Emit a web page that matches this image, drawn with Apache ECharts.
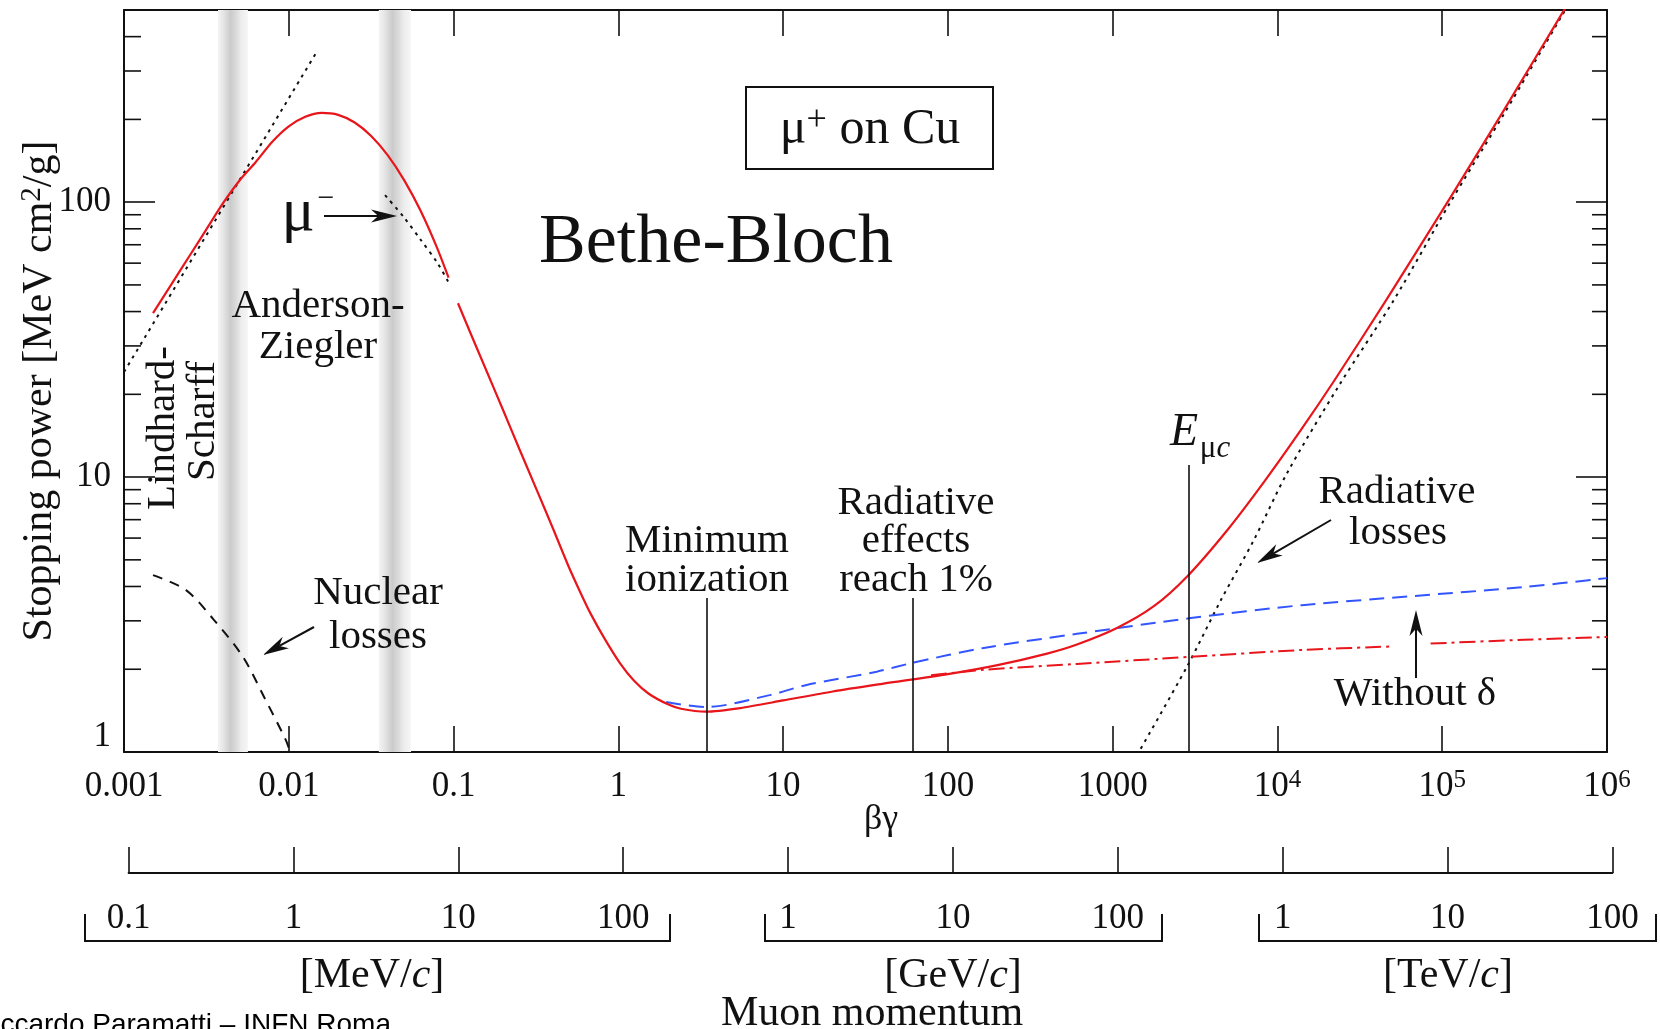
<!DOCTYPE html>
<html><head><meta charset="utf-8">
<script src="https://cdn.jsdelivr.net/npm/echarts@6/dist/echarts.min.js"></script>
<style>html,body{margin:0;padding:0;background:#fff;}#c{width:1660px;height:1029px;}</style>
</head><body><div id="c"></div>
<script>
// ---------- data (x = beta*gamma, y = stopping power MeV cm2/g) ----------
const muPlusCu = [[0.0015,39.5],[0.001995,51.6],[0.002512,64.1],[0.003162,79.6],[0.003981,98.9],[0.005012,119.7],[0.00631,140],[0.007943,165.8],[0.01,188.6],[0.01259,204.4],[0.01585,211.2],[0.01995,207.8],[0.02512,194.9],[0.03162,174.1],[0.03981,148.3],[0.05012,120.3],[0.0631,93],[0.07943,68.2],[0.0933,53.1],[0.1,null],
  [0.1064,42.9],[0.13,32.2],[0.16,24.0],[0.2,17.5],[0.25,12.7],[0.32,8.97],[0.4,6.53],[0.5,4.72],[0.6,3.71],[0.68,3.18],[0.82,2.6],[1.02,2.11],[1.25,1.811],[1.53,1.629],[2.0,1.491],[2.4,1.437],[3.4,1.402],[5.5,1.445],[10,1.54],[20,1.66],[40,1.77],[100,1.92],[200,2.07],[400,2.28],[607,2.46],[1062,2.825],[1778,3.39],[2860,4.38],[5000,6.45],[8380,9.69],[14060,15.0],[22300,22.6],[46100,44.4],[111000,103],[240000,219],[525000,478],[600000,546]];
const ionizationBlue = [[1.95,1.52],[3.4,1.458],[8.3,1.61],[13.7,1.75],[37,1.96],[61,2.11],[165,2.39],[607,2.69],[2980,3.07],[14060,3.42],[66400,3.69],[312000,3.98],[1e6,4.29]];
const withoutDelta = [[79,1.9],[165,1.99],[607,2.09],[2980,2.22],[14060,2.35],[49000,2.42],[65000,null],[85000,2.48],[312000,2.56],[1e6,2.62]];
const radiativeLosses = [[1400,0.97],[2820,2.04],[4540,3.57],[7190,5.9],[11400,10.3],[23600,21.5],[50800,44],[111000,99],[240000,212],[525000,470],[600000,540]];
const lindhardScharff = [[0.001,24.1],[0.0146,348]];
const muMinus = [[0.0384,106],[0.05,88],[0.0634,72.8],[0.08,60],[0.0938,50.7]];
const nuclearLosses = [[0.0015,4.40],[0.00238,3.88],[0.00352,3.02],[0.00527,2.22],[0.00708,1.585],[0.0096,1.105],[0.0102,1.0]];
const markerX = [3.44, 61.4, 2880];          // minimum ionization, radiative 1%, E_muc
const markerTop = [3.63, 3.63, 11.06];
const bandRanges = [[0.00372,0.00565],[0.0352,0.0552]];
const yMinorTicks = [2,3,4,5,6,7,8,9,20,30,40,50,60,70,80,90,200,300,400];
const momentumLabels = ['0.1','1','10','100','1','10','100','1','10','100'];

// ---------- chart ----------
const SERIF = 'Liberation Serif';
const INK = '#111';
const chart = echarts.init(document.getElementById('c'), null, {renderer:'canvas', width:1660, height:1029});
const isDecade = v => Math.abs(Math.log10(v) - Math.round(Math.log10(v))) < 1e-6;
function xFmt(v){
  if (!isDecade(v)) return '';
  const e = Math.round(Math.log10(v));
  if (e >= 4) return '{b|10}{sup|' + e + '}';
  if (e < 0) return '{b|' + Number(v).toFixed(-e) + '}';
  return '{b|' + Math.round(Math.pow(10, e)) + '}';
}
function yFmt(v){
  if (!isDecade(v)) return '';
  const e = Math.round(Math.log10(v));
  if (e > 2) return '';
  if (e === 0) return '{one|1}';
  return String(Math.round(Math.pow(10, e)));
}
function pFmt(v){
  if (!isDecade(v)) return '';
  const i = Math.round(Math.log10(v)) + 1;
  return momentumLabels[i] || '';
}
const axisLine = {show:true, onZero:false, lineStyle:{color:INK, width:2}};
const tickStyle = {color:INK, width:1.6};
const richX = {
  b:{fontFamily:SERIF, fontSize:35, lineHeight:36, color:INK, verticalAlign:'bottom'},
  sup:{fontFamily:SERIF, fontSize:25, lineHeight:12, color:INK, verticalAlign:'top'}
};
const bandGrad = () => new echarts.graphic.LinearGradient(0,0,1,0,[
  {offset:0,color:'#f4f4f4'},{offset:0.2,color:'#e3e3e3'},{offset:0.42,color:'#cbcbcb'},
  {offset:0.6,color:'#dadada'},{offset:0.78,color:'#ededed'},{offset:1,color:'#f6f6f6'}]);

function lineSeries(data, color, width, type, smooth){
  return {type:'line', data, xAxisIndex:0, yAxisIndex:0, showSymbol:false, symbol:'none',
    smooth: smooth === undefined ? 0.3 : smooth, connectNulls:false, silent:true, z:3,
    lineStyle:{color, width, type}};
}

function T(x, y, text, size, extra){
  const st = Object.assign({text, fontFamily:SERIF, fontSize:size, fill:INK, align:'center', verticalAlign:'middle'}, (extra && extra.style) || {});
  const el = {type:'text', x, y, style:st, silent:true, z:100};
  if (extra && extra.rotation) el.rotation = extra.rotation;
  return el;
}
function arrow(x1,y1,x2,y2){
  const a = Math.atan2(y2-y1, x2-x1), L = 26, W = 6.5, c = Math.cos(a), s = Math.sin(a);
  const bx = x2 - L*c, by = y2 - L*s, nx = -s, ny = c;
  const mx = x2 - L*0.72*c, my = y2 - L*0.72*s;
  return [
    {type:'line', shape:{x1, y1, x2:mx, y2:my}, style:{stroke:INK, lineWidth:2}, silent:true, z:100},
    {type:'polygon', shape:{points:[[x2,y2],[bx+nx*W,by+ny*W],[mx,my],[bx-nx*W,by-ny*W]]}, style:{fill:INK}, silent:true, z:100}
  ];
}
function bracket(xl, xr){
  return {type:'polyline', shape:{points:[[xl,914],[xl,941],[xr,941],[xr,914]]}, style:{stroke:INK, lineWidth:2, fill:null}, silent:true, z:100};
}
const unitRich = {t:{fontFamily:SERIF,fontSize:42,fill:INK}, i:{fontFamily:SERIF,fontSize:42,fontStyle:'italic',fill:INK}};

const graphics = [
  {type:'rect', shape:{x:746, y:87, width:247, height:82}, style:{stroke:INK, lineWidth:2, fill:'#fff'}, silent:true, z:99},
  T(870, 129, '{t|μ}{s|+}{t| on Cu}', 50, {style:{rich:{t:{fontFamily:SERIF,fontSize:50,fill:INK,lineHeight:52,verticalAlign:'bottom'}, s:{fontFamily:SERIF,fontSize:36,fill:INK,lineHeight:18,verticalAlign:'top'}}}}),
  T(716, 244, 'Bethe-Bloch', 70),
  T(318, 306, 'Anderson-', 41),
  T(318, 347, 'Ziegler', 41),
  T(163, 428, 'Lindhard-', 41, {rotation:Math.PI/2}),
  T(203, 421, 'Scharff', 41, {rotation:Math.PI/2}),
  T(298, 214, 'μ', 62),
  T(326, 199, '−', 30),
  ...arrow(324, 216, 397, 216),
  T(707, 541, 'Minimum', 41),
  T(707, 580, 'ionization', 41),
  T(916, 503, 'Radiative', 41),
  T(916, 541, 'effects', 41),
  T(916, 580, 'reach 1%', 41),
  T(1184, 433, 'E', 46, {style:{fontStyle:'italic'}}),
  T(1215, 449, '{m|μ}{c|c}', 30, {style:{rich:{m:{fontFamily:SERIF,fontSize:31,fill:INK}, c:{fontFamily:SERIF,fontSize:31,fontStyle:'italic',fill:INK}}}}),
  T(1397, 492, 'Radiative', 41),
  T(1398, 533, 'losses', 41),
  ...arrow(1331, 520, 1257, 563),
  T(1415, 694, 'Without δ', 41),
  ...arrow(1416, 678, 1416, 610),
  T(378, 593, 'Nuclear', 41),
  T(378, 637, 'losses', 41),
  ...arrow(314, 627, 263, 655),
  T(39, 391, '{t|Stopping power [MeV cm}{s|2}{t|/g]}', 42, {rotation:Math.PI/2, style:{rich:{t:{fontFamily:SERIF,fontSize:42,fill:INK,lineHeight:43,verticalAlign:'bottom'}, s:{fontFamily:SERIF,fontSize:29,fill:INK,lineHeight:14,verticalAlign:'top'}}}}),
  T(881, 820, 'βγ', 36),
  bracket(85, 670), bracket(765, 1162), bracket(1259, 1656),
  T(372, 976, '{t|[MeV/}{i|c}{t|]}', 42, {style:{rich:unitRich}}),
  T(953, 976, '{t|[GeV/}{i|c}{t|]}', 42, {style:{rich:unitRich}}),
  T(1448, 976, '{t|[TeV/}{i|c}{t|]}', 42, {style:{rich:unitRich}}),
  T(872, 1014, 'Muon momentum', 42),
  {type:'text', x:-26, y:1011, style:{text:'Riccardo Paramatti – INFN Roma', fontFamily:'Liberation Sans', fontSize:28, fill:'#000', align:'left', verticalAlign:'top'}, silent:true, z:100}
];

const option = {
  animation:false,
  backgroundColor:'#fff',
  grid:[
    {left:124, right:53, top:10, bottom:277},
    {left:128.6, right:47.6, top:840, height:33}
  ],
  xAxis:[
    {type:'log', gridIndex:0, min:0.001, max:1e6, position:'bottom', axisLine,
      axisTick:{show:true, inside:true, length:26, lineStyle:tickStyle},
      axisLabel:{show:true, interval:0, margin:16, hideOverlap:false, showMinLabel:true, showMaxLabel:true, formatter:xFmt, rich:richX},
      splitLine:{show:false}},
    {type:'log', gridIndex:0, min:0.001, max:1e6, position:'top', axisLine,
      axisTick:{show:true, inside:true, length:26, lineStyle:tickStyle},
      axisLabel:{show:false}, splitLine:{show:false}},
    {type:'log', gridIndex:1, min:0.1, max:1e8, position:'bottom', axisLine,
      axisTick:{show:true, inside:true, length:26, lineStyle:tickStyle},
      axisLabel:{show:true, interval:0, margin:28, hideOverlap:false, showMinLabel:true, showMaxLabel:true, formatter:pFmt,
        fontFamily:SERIF, fontSize:35, color:INK},
      splitLine:{show:false}}
  ],
  yAxis:[
    {type:'log', gridIndex:0, min:1, max:500, position:'left', axisLine,
      axisTick:{show:true, inside:true, length:31, lineStyle:tickStyle},
      axisLabel:{show:true, interval:0, margin:13, formatter:yFmt, fontFamily:SERIF, fontSize:35, color:INK,
        rich:{one:{fontFamily:SERIF, fontSize:35, color:INK, padding:[0,0,30,0]}}},
      splitLine:{show:false}},
    {type:'log', gridIndex:0, min:1, max:500, position:'right', axisLine,
      axisTick:{show:true, inside:true, length:31, lineStyle:tickStyle},
      axisLabel:{show:false}, splitLine:{show:false}},
    {type:'value', gridIndex:1, show:false}
  ],
  graphic: graphics,
  series:[
    {type:'line', xAxisIndex:0, yAxisIndex:0, data:[[0.001,null]], symbol:'none', silent:true, z:1,
      markArea:{silent:true, data: bandRanges.map(r => [{xAxis:r[0], itemStyle:{color:bandGrad()}}, {xAxis:r[1]}])}},
    lineSeries(nuclearLosses, INK, 2, [10, 8]),
    lineSeries(lindhardScharff, INK, 2, [3, 5], false),
    lineSeries(muMinus, INK, 2, [3, 5]),
    lineSeries(radiativeLosses, INK, 2, [3, 5]),
    lineSeries(ionizationBlue, '#3355ff', 2, [15, 8]),
    lineSeries(withoutDelta, '#e8151b', 2, [16, 5, 3, 5]),
    Object.assign(lineSeries(muPlusCu, '#e8151b', 2.2, 'solid', 0.25), {z:4}),
    {type:'line', xAxisIndex:0, yAxisIndex:0, data:[[0.001,null]], symbol:'none', silent:true, z:5,
      markLine:{silent:true, symbol:['none','none'], label:{show:false}, lineStyle:{color:INK, width:1.6, type:'solid'},
        data: markerX.map((x, i) => [{coord:[x, 1]}, {coord:[x, markerTop[i]]}])}},
    {type:'custom', xAxisIndex:0, yAxisIndex:0, silent:true, z:6, clip:false,
      data: yMinorTicks.map(v => [0.001, v]),
      renderItem:(params, api) => {
        const p = api.coord([api.value(0), api.value(1)]);
        const cs = params.coordSys;
        return {type:'group', children:[
          {type:'line', shape:{x1:cs.x, y1:p[1], x2:cs.x+17, y2:p[1]}, style:{stroke:INK, lineWidth:1.6}},
          {type:'line', shape:{x1:cs.x+cs.width-15, y1:p[1], x2:cs.x+cs.width, y2:p[1]}, style:{stroke:INK, lineWidth:1.6}}
        ]};
      }}
  ]
};
chart.setOption(option);
</script></body></html>
